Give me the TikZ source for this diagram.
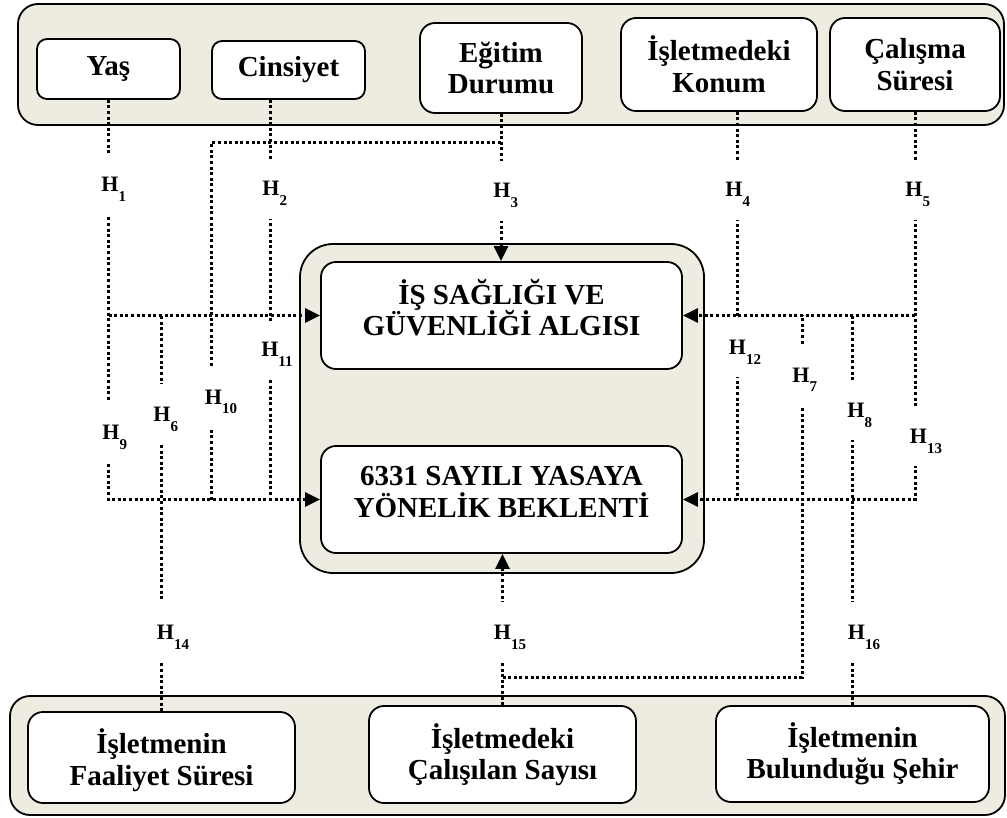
\documentclass[tikz,border=0pt]{standalone}
\usepackage{fontspec}
\setmainfont{Liberation Serif}
\usetikzlibrary{arrows.meta}
\definecolor{bandfill}{HTML}{EEECE1}
\newcommand\hsub[1]{\raisebox{-7pt}[0pt][0pt]{H\raisebox{-10pt}{\fontsize{15}{15}\selectfont #1}}}
\newcommand\dpstrut[1]{\rule[-#1]{0pt}{#1}}
\newcommand\htstrut[1]{\rule{0pt}{#1}}
\tikzset{
  band/.style={draw=black, line width=1.8pt, fill=bandfill, inner sep=0pt},
  box/.style={draw=black, line width=1.8pt, fill=white, inner sep=0pt, align=center,
    font=\bfseries\fontsize{29}{31.5}\selectfont},
  dl/.style={line width=3pt, dash pattern=on 3pt off 2.6pt},
  arr/.style={-{Triangle[length=15pt,width=14pt]}},
  hlab/.style={fill=white, inner sep=0pt, minimum width=44pt, minimum height=60pt,
    font=\bfseries\fontsize{22}{22}\selectfont},
}
\begin{document}
\begin{tikzpicture}[x=1pt,y=-1pt]
\useasboundingbox (0,0) rectangle (1007,818);
% containers
\node[band, rounded corners=20pt, minimum width=986pt, minimum height=121pt] (topband) at (511,64.5) {};
\node[band, rounded corners=20pt, minimum width=995pt, minimum height=119pt] (botband) at (507.5,755.5) {};
\node[band, rounded corners=33pt, minimum width=404pt, minimum height=329pt] (midband) at (502,408.5) {};
% top boxes
\node[box, rounded corners=10pt, minimum width=143pt, minimum height=60pt] (yas) at (108.5,69) {Yaş};
\node[box, rounded corners=10pt, minimum width=153pt, minimum height=58pt] (cins) at (288.5,70) {Cinsiyet};
\node[box, rounded corners=15pt, minimum width=162pt, minimum height=90pt] (egitim) at (501,68) {Eğitim\\Durumu};
\node[box, rounded corners=15pt, minimum width=196pt, minimum height=93pt] (konum) at (719,64.5) {İşletmedeki\\Konum};
\node[box, rounded corners=15pt, minimum width=170pt, minimum height=93pt] (calisma) at (915,64.5) {Çalışma\\Süresi};
% middle boxes
\node[box, rounded corners=15pt, minimum width=361pt, minimum height=107pt] (isg) at (501.5,315.5) {İŞ SAĞLIĞI VE\\GÜVENLİĞİ ALGISI\dpstrut{16pt}};
\node[box, rounded corners=15pt, minimum width=361pt, minimum height=107pt] (yasa) at (501.5,499.5) {6331 SAYILI YASAYA\\YÖNELİK BEKLENTİ\dpstrut{15pt}};
% bottom boxes
\node[box, rounded corners=15pt, minimum width=267pt, minimum height=91pt] (faaliyet) at (161.5,757.5) {\htstrut{30pt}İşletmenin\\Faaliyet Süresi};
\node[box, rounded corners=15pt, minimum width=267pt, minimum height=97pt] (calisan) at (502.5,754.5) {İşletmedeki\\Çalışılan Sayısı};
\node[box, rounded corners=15pt, minimum width=273pt, minimum height=96pt] (sehir) at (852.5,754) {İşletmenin\\Bulunduğu Şehir};
% helper coordinates
\coordinate (cs) at ([xshift=-18.5pt]cins.south);
\coordinate (ks) at ([xshift=18pt]konum.south);
\coordinate (k10) at (211,143);
\coordinate (k7) at (802,677);
% left connectors
\draw[dl,arr] (yas.south) -- (yas.south |- yasa.west) -- (yasa.west);
\draw[dl,arr] (yas.south |- isg.west) -- (isg.west);
\draw[dl] (cs) -- (cs |- yasa.west);
\draw[dl] (egitim.south |- k10) -- (k10) -- (k10 |- yasa.west);
\draw[dl,arr] (egitim.south) -- (egitim.south |- isg.north);
\draw[dl] (faaliyet.north) -- (faaliyet.north |- isg.west);
% right connectors
\draw[dl,arr] (calisma.south) -- (calisma.south |- yasa.east) -- (yasa.east);
\draw[dl,arr] (calisma.south |- isg.east) -- (isg.east);
\draw[dl] (ks) -- (ks |- yasa.east);
\draw[dl] (sehir.north) -- (sehir.north |- isg.east);
\draw[dl] (calisan.north |- k7) -- (k7) -- (k7 |- isg.east);
\draw[dl,arr] (calisan.north) -- (calisan.north |- yasa.south);
% hypothesis labels
\node[hlab] (h1) at (113.7,185) {\hsub{1}};
\node[hlab] (h2) at (274.7,189) {\hsub{2}};
\node[hlab] (h3) at (505.7,191) {\hsub{3}};
\node[hlab] (h4) at (737.7,190) {\hsub{4}};
\node[hlab] (h5) at (917.7,190) {\hsub{5}};
\node[hlab] (h6) at (165.7,414) {\hsub{6}};
\node[hlab] (h7) at (804.7,375) {\hsub{7}};
\node[hlab] (h8) at (859.7,410) {\hsub{8}};
\node[hlab] (h9) at (114.7,432) {\hsub{9}};
\node[hlab, minimum width=48pt] (h10) at (221,397) {\hsub{10}};
\node[hlab, minimum width=40pt, minimum height=58pt] (h11) at (277,350) {\hsub{11}};
\node[hlab, minimum width=48pt, minimum height=58pt] (h12) at (745,348) {\hsub{12}};
\node[hlab, minimum width=48pt] (h13) at (926,436) {\hsub{13}};
\node[hlab, minimum width=48pt] (h14) at (173,632) {\hsub{14}};
\node[hlab, minimum width=48pt] (h15) at (510,632) {\hsub{15}};
\node[hlab, minimum width=48pt] (h16) at (864,632) {\hsub{16}};
\end{tikzpicture}
\end{document}
